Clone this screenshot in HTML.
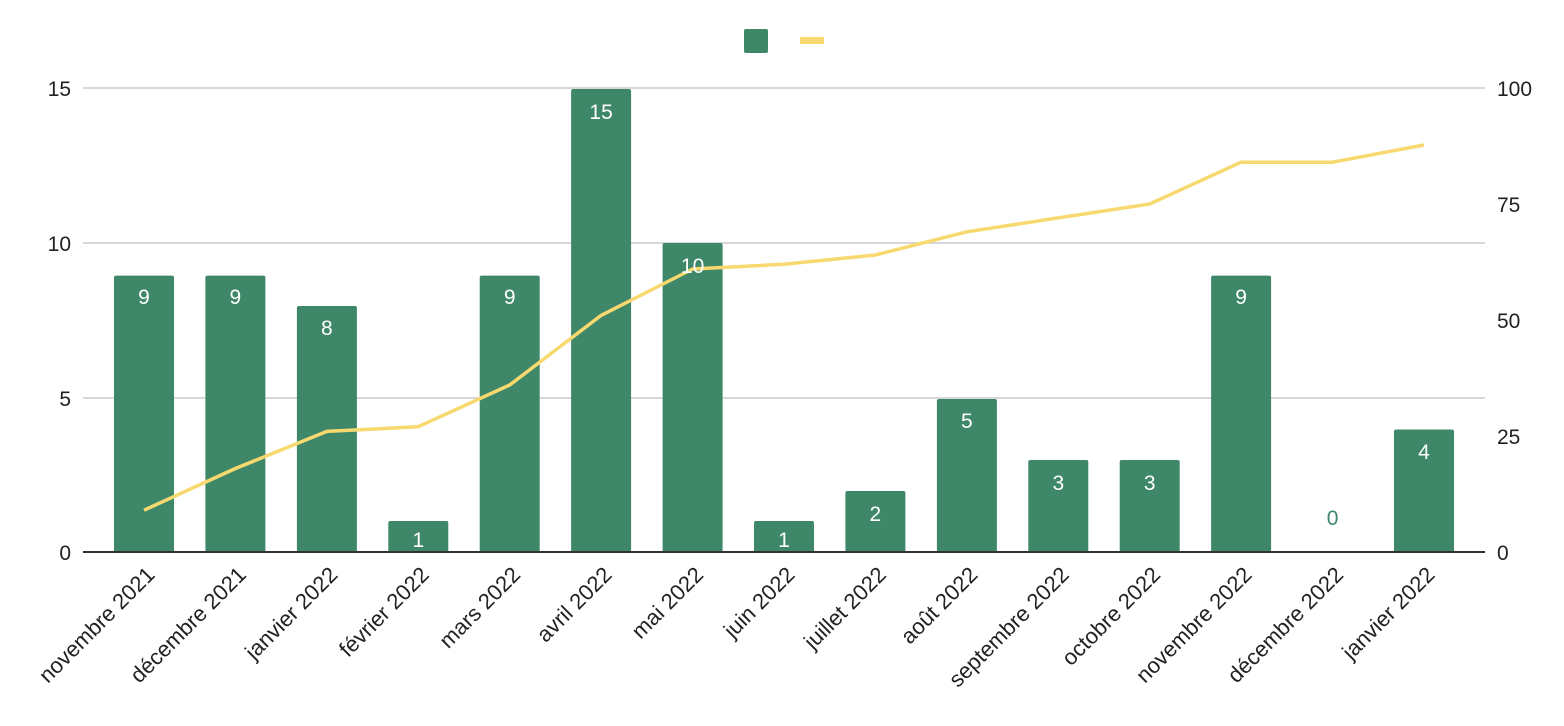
<!DOCTYPE html>
<html><head><meta charset="utf-8"><style>body{margin:0;background:#fff}svg{display:block}text{font-family:"Liberation Sans",sans-serif}</style></head>
<body>
<svg width="1564" height="726" xmlns="http://www.w3.org/2000/svg">
<rect x="744" y="29" width="24" height="24" rx="2" fill="#3e8869"/>
<rect x="800" y="37" width="24" height="7" fill="#f7d96f"/>
<g stroke="#cccccc" stroke-width="1.5">
<line x1="83" y1="88" x2="1485" y2="88"/><line x1="83" y1="243" x2="1485" y2="243"/><line x1="83" y1="398" x2="1485" y2="398"/>
</g>
<g font-size="21" fill="#222" text-anchor="end">
<text x="71" y="96">15</text><text x="71" y="251">10</text><text x="71" y="406">5</text><text x="71" y="560">0</text>
</g>
<g font-size="21" fill="#222" text-anchor="start">
<text x="1497" y="96">100</text><text x="1497" y="212">75</text><text x="1497" y="328">50</text><text x="1497" y="444">25</text><text x="1497" y="560">0</text>
</g>
<g fill="#3e8869">
<rect x="114" y="275.6" width="60" height="276.4" rx="2"/>
<rect x="205.4" y="275.6" width="60" height="276.4" rx="2"/>
<rect x="296.9" y="306" width="60" height="246" rx="2"/>
<rect x="388.3" y="521" width="60" height="31" rx="2"/>
<rect x="479.7" y="275.6" width="60" height="276.4" rx="2"/>
<rect x="571.1" y="89" width="60" height="463" rx="2"/>
<rect x="662.6" y="243" width="60" height="309" rx="2"/>
<rect x="754" y="521" width="60" height="31" rx="2"/>
<rect x="845.4" y="491" width="60" height="61" rx="2"/>
<rect x="936.9" y="399" width="60" height="153" rx="2"/>
<rect x="1028.3" y="460" width="60" height="92" rx="2"/>
<rect x="1119.7" y="460" width="60" height="92" rx="2"/>
<rect x="1211.1" y="275.6" width="60" height="276.4" rx="2"/>
<rect x="1394" y="429.5" width="60" height="122.5" rx="2"/>
</g>
<line x1="83" y1="552" x2="1485" y2="552" stroke="#333" stroke-width="2"/>
<polyline fill="none" stroke="#f7d96f" stroke-width="3.5" stroke-linejoin="round" points="144,510.2 235.4,468.5 326.9,431.4 418.3,426.7 509.7,385 601.1,315.4 692.6,269 784,264.3 875.4,255 966.9,231.8 1058.3,217.9 1149.7,204 1241.1,162.2 1332.6,162.2 1424,145"/>
<g font-size="21" fill="#fff" text-anchor="middle">
<text x="144" y="304">9</text><text x="235.4" y="304">9</text><text x="326.9" y="335">8</text><text x="418.3" y="547">1</text>
<text x="509.7" y="304">9</text><text x="601.1" y="119">15</text><text x="692.6" y="273">10</text><text x="784" y="547">1</text>
<text x="875.4" y="521">2</text><text x="966.9" y="428">5</text><text x="1058.3" y="490">3</text><text x="1149.7" y="490">3</text>
<text x="1241.1" y="304">9</text><text x="1332.6" y="525" fill="#3e8869">0</text><text x="1424" y="459">4</text>
</g>
<g font-size="22" fill="#222" text-anchor="end">
<text transform="translate(156,576) rotate(-45)">novembre 2021</text>
<text transform="translate(247.4,576) rotate(-45)">décembre 2021</text>
<text transform="translate(338.9,576) rotate(-45)">janvier 2022</text>
<text transform="translate(430.3,576) rotate(-45)">février 2022</text>
<text transform="translate(521.7,576) rotate(-45)">mars 2022</text>
<text transform="translate(613.1,576) rotate(-45)">avril 2022</text>
<text transform="translate(704.6,576) rotate(-45)">mai 2022</text>
<text transform="translate(796,576) rotate(-45)">juin 2022</text>
<text transform="translate(887.4,576) rotate(-45)">juillet 2022</text>
<text transform="translate(978.9,576) rotate(-45)">août 2022</text>
<text transform="translate(1070.3,576) rotate(-45)">septembre 2022</text>
<text transform="translate(1161.7,576) rotate(-45)">octobre 2022</text>
<text transform="translate(1253.1,576) rotate(-45)">novembre 2022</text>
<text transform="translate(1344.6,576) rotate(-45)">décembre 2022</text>
<text transform="translate(1436,576) rotate(-45)">janvier 2022</text>
</g>
</svg>
</body></html>
